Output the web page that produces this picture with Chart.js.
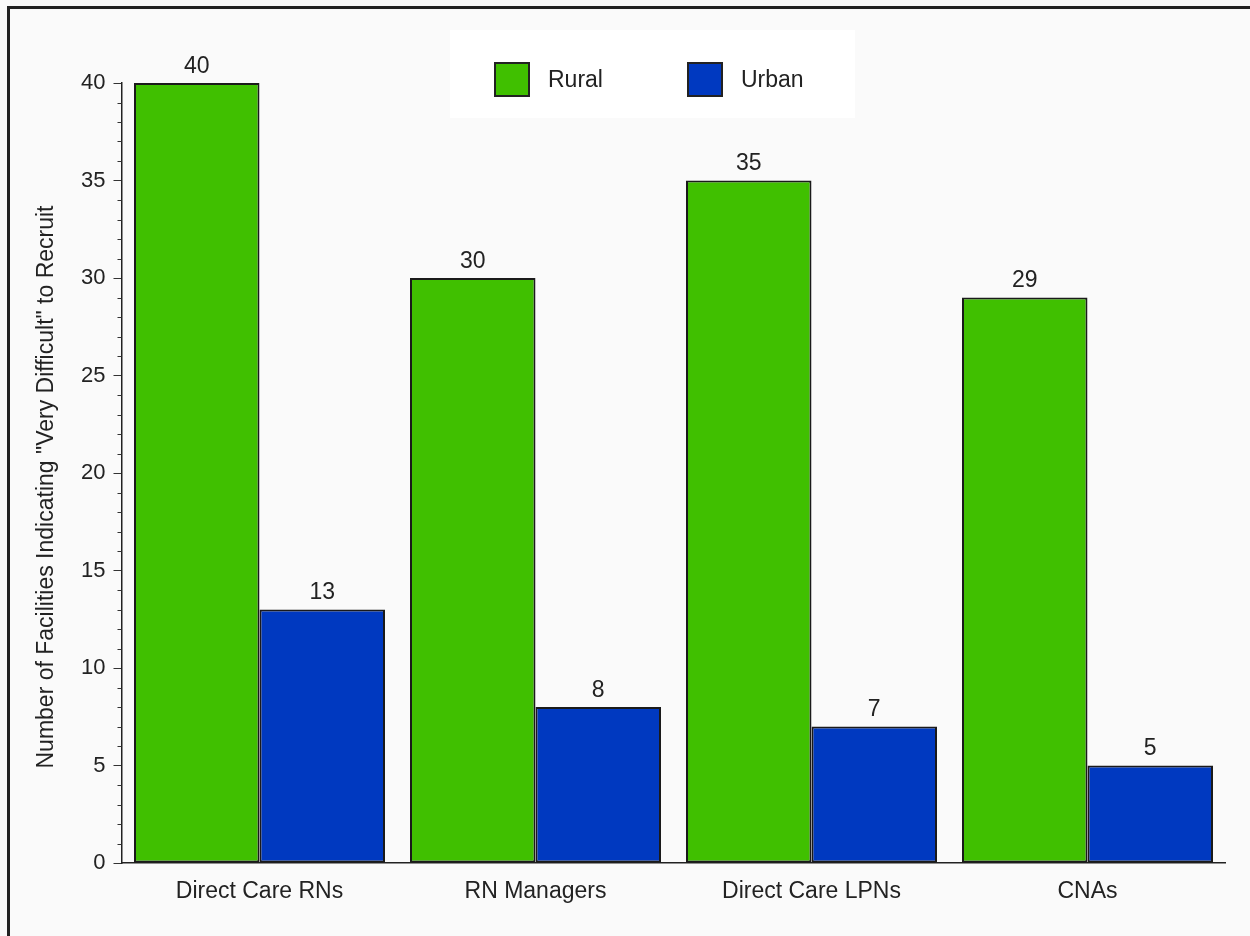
<!DOCTYPE html>
<html>
<head>
<meta charset="utf-8">
<script src="https://cdn.jsdelivr.net/npm/chart.js"></script>
<style>
  html, body { margin: 0; padding: 0; background: #fafafa; }
  #wrap { position: relative; width: 1250px; height: 936px; overflow: hidden; }
  #frame { position: absolute; left: 7px; top: 6px; width: 1400px; height: 1100px;
           border-top: 3px solid #222; border-left: 3px solid #222; box-sizing: border-box; }
  #legendBox { position: absolute; left: 450px; top: 30px; width: 405px; height: 88px; background: #ffffff; }
  #legend { position: absolute; left: 0; top: 0; font-family: "Liberation Sans", Arial, sans-serif;
            font-size: 23px; color: #222; }
  .item { position: absolute; white-space: nowrap; }
  .sw { position: absolute; width: 32px; height: 31px; border: 2px solid #222; }
  .lbl { position: absolute; line-height: 23px; }
  canvas { position: absolute; left: 0; top: 0; }
</style>
</head>
<body>
<div id="wrap">
  <div id="frame"></div>
  <div id="legendBox"></div>
  <canvas id="chart" width="1250" height="936"></canvas>
  <div id="legend"></div>
</div>
<script>
// chart data
const categories = ['Direct Care RNs', 'RN Managers', 'Direct Care LPNs', 'CNAs'];
const rural = [40, 30, 35, 29];
const urban = [13, 8, 7, 5];
const seriesNames = ['Rural', 'Urban'];
const seriesColors = ['#40c000', '#0039c0'];
const yTicks = [0, 5, 10, 15, 20, 25, 30, 35, 40];
const yTitle = 'Number of Facilities Indicating "Very Difficult" to Recruit';

const FONT = '"Liberation Sans", Arial, sans-serif';

// minor ticks on the y axis, every 1 unit
const minorTicks = {
  id: 'minorTicks',
  afterDraw(chart) {
    const y = chart.scales.y;
    const ctx = chart.ctx;
    const x0 = chart.chartArea.left;
    ctx.save();
    ctx.strokeStyle = '#333';
    ctx.lineWidth = 1;
    for (let v = y.min; v <= y.max; v++) {
      if (v % 5 === 0) continue;
      const py = Math.round(y.getPixelForValue(v)) + 0.5;
      ctx.beginPath();
      ctx.moveTo(x0 - 4, py);
      ctx.lineTo(x0, py);
      ctx.stroke();
    }
    ctx.restore();
  }
};

// y axis title, sits a little below the middle of the axis in the original
const yAxisTitle = {
  id: 'yAxisTitle',
  afterDraw(chart) {
    const ctx = chart.ctx;
    ctx.save();
    ctx.translate(47, 487);
    ctx.rotate(-Math.PI / 2);
    ctx.font = '23px ' + FONT;
    ctx.fillStyle = '#222';
    ctx.textAlign = 'center';
    ctx.textBaseline = 'middle';
    ctx.fillText(yTitle, 0, 0);
    ctx.restore();
  }
};

// value labels above bars
const valueLabels = {
  id: 'valueLabels',
  afterDatasetsDraw(chart) {
    const ctx = chart.ctx;
    ctx.save();
    ctx.font = '23px ' + FONT;
    ctx.fillStyle = '#222';
    ctx.textAlign = 'center';
    ctx.textBaseline = 'bottom';
    chart.data.datasets.forEach((ds, i) => {
      chart.getDatasetMeta(i).data.forEach((bar, j) => {
        ctx.fillText(String(ds.data[j]), bar.x, bar.y - 5);
      });
    });
    ctx.restore();
  }
};

const ctx = document.getElementById('chart').getContext('2d');
const chart = new Chart(ctx, {
  type: 'bar',
  data: {
    labels: categories,
    datasets: [rural, urban].map((d, i) => ({
      label: seriesNames[i],
      data: d,
      backgroundColor: seriesColors[i],
      borderColor: '#1a1a1a',
      borderWidth: 2,
      borderSkipped: false,
      categoryPercentage: 251 / 276,
      barPercentage: 1
    }))
  },
  options: {
    responsive: false,
    animation: false,
    layout: { padding: { left: 21.5, right: 24.5, top: 83, bottom: 13 } },
    plugins: { legend: { display: false }, tooltip: { enabled: false } },
    scales: {
      x: {
        afterFit: s => { s.height = 60; },
        grid: { display: false, drawTicks: false },
        border: { display: true, color: '#222', width: 1.5 },
        ticks: { color: '#222', padding: 15, font: { family: FONT, size: 23 } }
      },
      y: {
        min: 0,
        max: 40,
        afterFit: s => { s.width = 100; },
        afterBuildTicks: s => { s.ticks = yTicks.map(v => ({ value: v })); },
        grid: { drawOnChartArea: false, drawTicks: true, tickLength: 8, tickColor: '#333', tickWidth: 1 },
        border: { display: true, color: '#222', width: 1.5 },
        ticks: { color: '#222', padding: 8, font: { family: FONT, size: 22 } }
      }
    }
  },
  plugins: [minorTicks, yAxisTitle, valueLabels]
});

// legend built from the series arrays
const legend = document.getElementById('legend');
const legendPos = [494, 687];
seriesNames.forEach((name, i) => {
  const item = document.createElement('div');
  item.className = 'item';
  item.innerHTML = '<div class="sw" style="left:' + legendPos[i] + 'px;top:62px;background:' + seriesColors[i] + '"></div>' +
    '<div class="lbl" style="left:' + (legendPos[i] + 54) + 'px;top:68px">' + name + '</div>';
  legend.appendChild(item);
});
</script>
</body>
</html>
